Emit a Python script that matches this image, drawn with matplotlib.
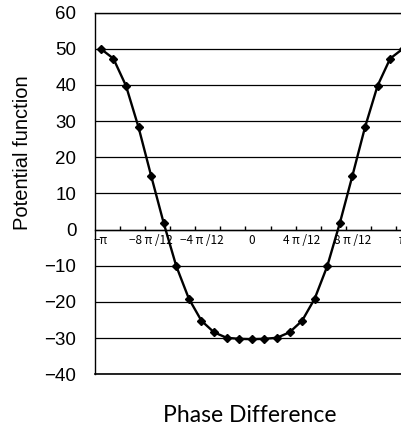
import numpy as np
import matplotlib.pyplot as plt

# potential, phase from -pi to pi in steps of pi/12
potential = [50.0, 47.3, 39.8, 28.3, 14.9, 1.8, -10.1, -19.1, -25.2, -28.4, -29.9, -30.2, -30.3,
             -30.2, -29.9, -28.4, -25.2, -19.1, -10.1, 1.8, 14.9, 28.3, 39.8, 47.3, 50.0]
phase_labels = ['−π', '−8 π /12', '−4 π /12', '0', '4 π /12', '8 π /12', 'π']
label_step = 4
y_ticks = [-40, -30, -20, -10, 0, 10, 20, 30, 40, 50, 60]

x = np.arange(len(potential))

fig = plt.figure(figsize=(4.01, 4.28), dpi=100)
ax = fig.add_axes([0.2357, 0.1255, 0.7843, 0.8449])

ax.plot(x, potential, color='black', lw=1.7, marker='D', markersize=4.5)

ax.set_xlim(-0.5, len(potential) - 0.5)
ax.set_ylim(y_ticks[0], y_ticks[-1])
ax.set_yticks(y_ticks)
ax.set_yticklabels([str(v).replace('-', '−') for v in y_ticks],
                   family='Liberation Sans', fontsize=13.5)
ax.tick_params(axis='y', length=0, pad=13)
ax.yaxis.grid(True, color='black', lw=0.9)
ax.set_axisbelow(True)
# bottom edge of the plot frame
ax.axhline(y_ticks[0], color='black', lw=1.2, clip_on=False)

# category axis crosses at zero
ax.spines['bottom'].set_position(('data', 0))
ax.spines['right'].set_visible(False)
for s in ['left', 'top', 'bottom']:
    ax.spines[s].set_color('black')
    ax.spines[s].set_linewidth(1.0)

ax.set_xticks(x[::label_step])
ax.set_xticklabels(phase_labels, family=['Noto Sans CJK JP', 'DejaVu Sans'], fontsize=8.5)
ax.set_xticks(np.arange(1.5, len(potential) - 1, 2), minor=True)
ax.tick_params(axis='x', which='major', length=0, pad=3)
ax.tick_params(axis='x', which='minor', direction='in', length=3, width=1, color='black')

ax.set_ylabel('Potential function', family='Liberation Sans', fontsize=14.5)
ax.yaxis.set_label_coords(-0.2, 0.612)
ax.set_xlabel('Phase Difference', family='Lato', fontsize=16.5)
ax.xaxis.set_label_coords(0.494, -0.085)

fig.savefig('out.png', dpi=100)
